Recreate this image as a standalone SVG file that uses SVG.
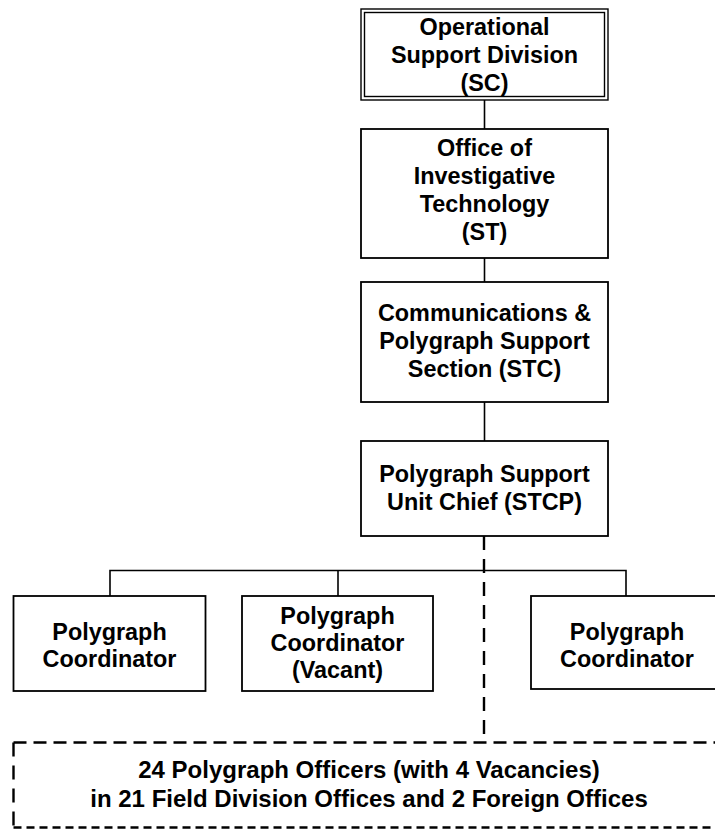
<svg xmlns="http://www.w3.org/2000/svg" width="715" height="829" viewBox="0 0 715 829">
<style>
.box{fill:#fff;stroke:#000;stroke-width:1.8}
.dbl{fill:none;stroke:#000;stroke-width:1.4}
.t{font-family:"Liberation Sans",Arial,sans-serif;font-weight:bold;font-size:23.4px;fill:#000;text-anchor:middle}
.t24{font-size:24px}
.ln{fill:none;stroke:#000;stroke-width:1.6}
.dash{fill:none;stroke:#000;stroke-width:2.4;stroke-dasharray:14 9}
.dashh{fill:none;stroke:#000;stroke-width:2.4;stroke-dasharray:13 7}
.dashb{fill:none;stroke:#000;stroke-width:2.4;stroke-dasharray:8 5}
</style>
<rect width="715" height="829" fill="#fff"/>
<g id="connectors">
<line class="ln" x1="484.5" y1="100" x2="484.5" y2="129"/>
<line class="ln" x1="484.5" y1="258" x2="484.5" y2="282"/>
<line class="ln" x1="484.5" y1="402" x2="484.5" y2="441"/>
<polyline class="ln" points="110,596 110,570.5 626,570.5 626,596"/>
<line class="ln" x1="338" y1="570.5" x2="338" y2="596"/>
<line class="dash" x1="484" y1="536" x2="484" y2="742"/>
</g>
<g id="sc">
<rect class="dbl" x="361" y="9" width="247" height="91"/>
<rect class="dbl" x="364.5" y="12.5" width="240" height="84"/>
<text class="t" x="484.5" y="35">Operational</text>
<text class="t" x="484.5" y="63">Support Division</text>
<text class="t" x="484.5" y="91">(SC)</text>
</g>
<g id="st">
<rect class="box" x="361" y="129" width="247" height="129"/>
<text class="t" x="484.5" y="156">Office of</text>
<text class="t" x="484.5" y="184">Investigative</text>
<text class="t" x="484.5" y="212">Technology</text>
<text class="t" x="484.5" y="240">(ST)</text>
</g>
<g id="stc">
<rect class="box" x="361" y="282" width="247" height="120"/>
<text class="t" x="484.5" y="321">Communications &amp;</text>
<text class="t" x="484.5" y="349">Polygraph Support</text>
<text class="t" x="484.5" y="377">Section (STC)</text>
</g>
<g id="stcp">
<rect class="box" x="361" y="441" width="247" height="95"/>
<text class="t" x="484.5" y="482">Polygraph Support</text>
<text class="t" x="484.5" y="510">Unit Chief (STCP)</text>
</g>
<g id="coord1">
<rect class="box" x="13.5" y="596" width="192" height="95"/>
<text class="t" x="109.5" y="640">Polygraph</text>
<text class="t" x="109.5" y="667">Coordinator</text>
</g>
<g id="coord2">
<rect class="box" x="242" y="596" width="191" height="95"/>
<text class="t" x="337.5" y="624">Polygraph</text>
<text class="t" x="337.5" y="651">Coordinator</text>
<text class="t" x="337.5" y="678">(Vacant)</text>
</g>
<g id="coord3">
<rect class="box" x="531" y="596" width="192" height="93"/>
<text class="t" x="627" y="640">Polygraph</text>
<text class="t" x="627" y="667">Coordinator</text>
</g>
<g id="officers">
<line class="dashh" x1="13.5" y1="742.5" x2="725" y2="742.5"/>
<line class="dash" x1="13.5" y1="742.5" x2="13.5" y2="828"/>
<line class="dashb" x1="13.5" y1="827.5" x2="725" y2="827.5"/>
<text class="t t24" x="369" y="778">24 Polygraph Officers (with 4 Vacancies)</text>
<text class="t t24" x="369" y="807">in 21 Field Division Offices and 2 Foreign Offices</text>
</g>
</svg>
